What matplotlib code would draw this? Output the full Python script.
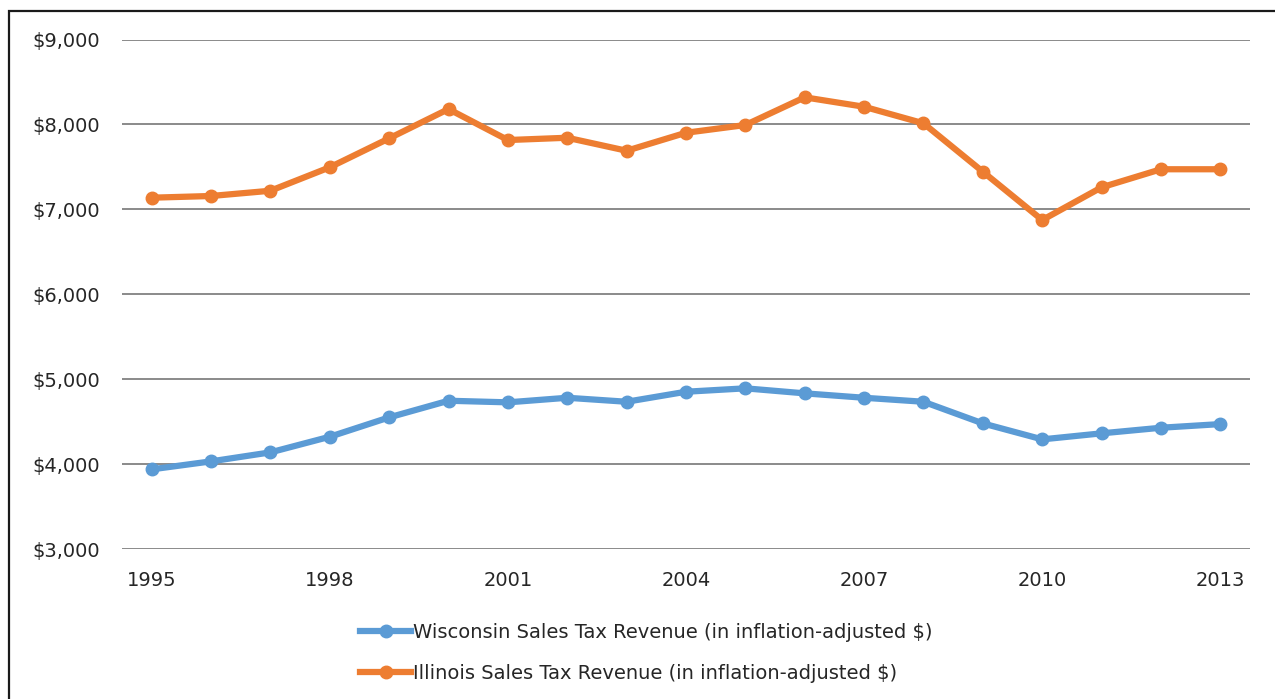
import matplotlib
matplotlib.use("Agg")
import matplotlib.pyplot as plt
from matplotlib.patches import Rectangle
from matplotlib.ticker import FuncFormatter

plt.rcParams["font.family"] = ["DejaVu Sans"]

# 数据
years = list(range(1995, 2014))
wisconsin = [3938, 4032, 4138, 4322, 4550, 4746, 4727, 4781, 4734, 4852,
             4892, 4833, 4781, 4734, 4479, 4291, 4362, 4428, 4471]
illinois = [7137, 7157, 7219, 7495, 7836, 8181, 7816, 7843, 7690, 7902,
            7993, 8319, 8208, 8013, 7443, 6874, 7259, 7472, 7472]
series_labels = [
    "Wisconsin Sales Tax Revenue (in inflation-adjusted $)",
    "Illinois Sales Tax Revenue (in inflation-adjusted $)",
]
y_ticks = [3000, 4000, 5000, 6000, 7000, 8000, 9000]
x_tick_years = [1995, 1998, 2001, 2004, 2007, 2010, 2013]

blue = "#5B9BD5"
orange = "#ED7D31"
text_color = "#262626"

W, H = 1275, 699
fig = plt.figure(figsize=(W / 100, H / 100), dpi=100)
fig.patch.set_facecolor("white")

# 外框（右、下边被裁掉）
fig.patches.append(Rectangle((9 / W, -0.05), 1.1, 1 - 11 / H + 0.05,
                             transform=fig.transFigure, fill=False,
                             edgecolor="#1a1a1a", lw=1.6))

ax = fig.add_axes([122 / W, 1 - 549 / H, (1250 - 122) / W, (549 - 39.5) / H])
ax.set_facecolor("white")

x = list(range(len(years)))
ax.plot(x, wisconsin, color=blue, lw=4.5, marker="o", ms=9,
        label=series_labels[0], zorder=3, solid_joinstyle="round")
ax.plot(x, illinois, color=orange, lw=4.5, marker="o", ms=9,
        label=series_labels[1], zorder=3, solid_joinstyle="round")

ax.set_xlim(-0.5, len(years) - 0.5)
ax.set_ylim(3000, 9000)
ax.set_yticks(y_ticks)
ax.yaxis.set_major_formatter(FuncFormatter(lambda v, p: f"${v:,.0f}"))
ax.set_xticks([years.index(y) for y in x_tick_years])
ax.set_xticklabels([str(y) for y in x_tick_years])

ax.grid(axis="y", color="#8a8a8a", lw=1.4, zorder=1)
ax.set_axisbelow(True)
for s in ax.spines.values():
    s.set_visible(False)
ax.tick_params(axis="both", length=0, labelsize=14, colors=text_color)
ax.tick_params(axis="y", pad=16)
ax.tick_params(axis="x", pad=16)

fig.legend(loc="center", bbox_to_anchor=(0.507, 0.066), frameon=False,
           fontsize=14, handlelength=2.6, handletextpad=0.1,
           labelspacing=1.15, labelcolor=text_color)

fig.savefig("out.png", dpi=100, facecolor="white")
